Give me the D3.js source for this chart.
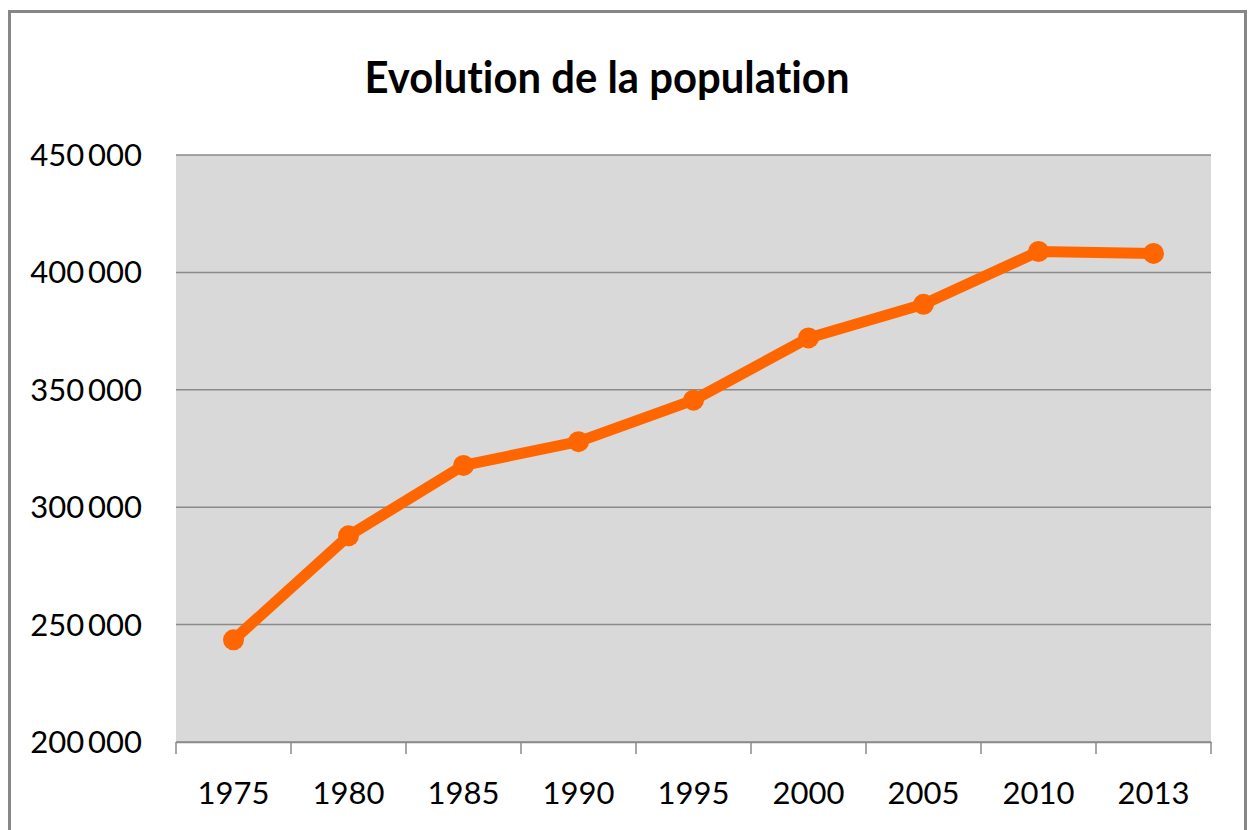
<!DOCTYPE html>
<html>
<head>
<meta charset="utf-8">
<script src="https://cdn.jsdelivr.net/npm/d3@7"></script>
<style>
  body { margin: 0; background: #fff; }
  text { font-family: Lato, "Open Sans", sans-serif; fill: #000; font-variant-ligatures: none; }
</style>
</head>
<body>
<div id="chart"></div>
<script>
// data
const years = ["1975", "1980", "1985", "1990", "1995", "2000", "2005", "2010", "2013"];
const population = [243500, 287800, 317800, 327900, 345600, 372100, 386400, 408900, 408100];
const yTicks = [200000, 250000, 300000, 350000, 400000, 450000];
const title = "Evolution de la population";

const width = 1254, height = 830;
const margin = { top: 155, right: 43, bottom: 88, left: 176 };
const innerW = width - margin.left - margin.right;
const innerH = height - margin.top - margin.bottom;

const svg = d3.select("#chart").append("svg")
    .attr("width", width)
    .attr("height", height);

// outer frame
svg.append("rect")
    .attr("x", 9.5).attr("y", 11.5)
    .attr("width", 1236).attr("height", 840)
    .attr("fill", "none")
    .attr("stroke", "#878787")
    .attr("stroke-width", 3);

svg.append("text")
    .attr("x", 607).attr("y", 93)
    .attr("text-anchor", "middle")
    .style("font-weight", "bold")
    .style("font-size", "44px")
    .attr("textLength", 485)
    .attr("lengthAdjust", "spacingAndGlyphs")
    .text(title);

const x = d3.scaleBand().domain(years).range([0, innerW]);
const y = d3.scaleLinear().domain([200000, 450000]).range([innerH, 0]);

const g = svg.append("g").attr("transform", `translate(${margin.left},${margin.top})`);

g.append("rect")
    .attr("width", innerW).attr("height", innerH)
    .attr("fill", "#d9d9d9");

// gridlines
g.selectAll(".grid").data(yTicks).join("line")
    .attr("x1", 0).attr("x2", innerW)
    .attr("y1", d => y(d)).attr("y2", d => y(d))
    .attr("stroke", "#8a8a8a").attr("stroke-width", 1.5);

// y labels
const fmt = d => d3.format(",")(d).replace(",", "\u2009");
g.selectAll(".ylab").data(yTicks).join("text")
    .attr("x", -34).attr("y", d => y(d) + 11)
    .attr("text-anchor", "end")
    .style("font-size", "31px")
    .text(fmt);

// x axis
const xAxis = g.append("g").attr("transform", `translate(0,${innerH})`)
    .call(d3.axisBottom(x).tickSize(0).tickFormat(""));
xAxis.select(".domain").attr("stroke", "#8a8a8a").attr("stroke-width", 1.5);

const bounds = years.map((d, i) => x(d)).concat([innerW]);
xAxis.selectAll(".tk").data(bounds).join("line")
    .attr("x1", d => d).attr("x2", d => d)
    .attr("y1", 0).attr("y2", 12)
    .attr("stroke", "#8a8a8a").attr("stroke-width", 1.5);

xAxis.selectAll(".xlab").data(years).join("text")
    .attr("x", d => x(d) + x.bandwidth() / 2)
    .attr("y", 62)
    .attr("text-anchor", "middle")
    .style("font-size", "31px")
    .text(d => d);

// line
const pts = years.map((d, i) => ({ year: d, v: population[i] }));
const line = d3.line()
    .x(d => x(d.year) + x.bandwidth() / 2)
    .y(d => y(d.v));

g.append("path").datum(pts)
    .attr("d", line)
    .attr("fill", "none")
    .attr("stroke", "#ff6600")
    .attr("stroke-width", 11)
    .attr("stroke-linejoin", "round");

g.selectAll(".dot").data(pts).join("circle")
    .attr("cx", d => x(d.year) + x.bandwidth() / 2)
    .attr("cy", d => y(d.v))
    .attr("r", 10.5)
    .attr("fill", "#ff6600");
</script>
</body>
</html>
